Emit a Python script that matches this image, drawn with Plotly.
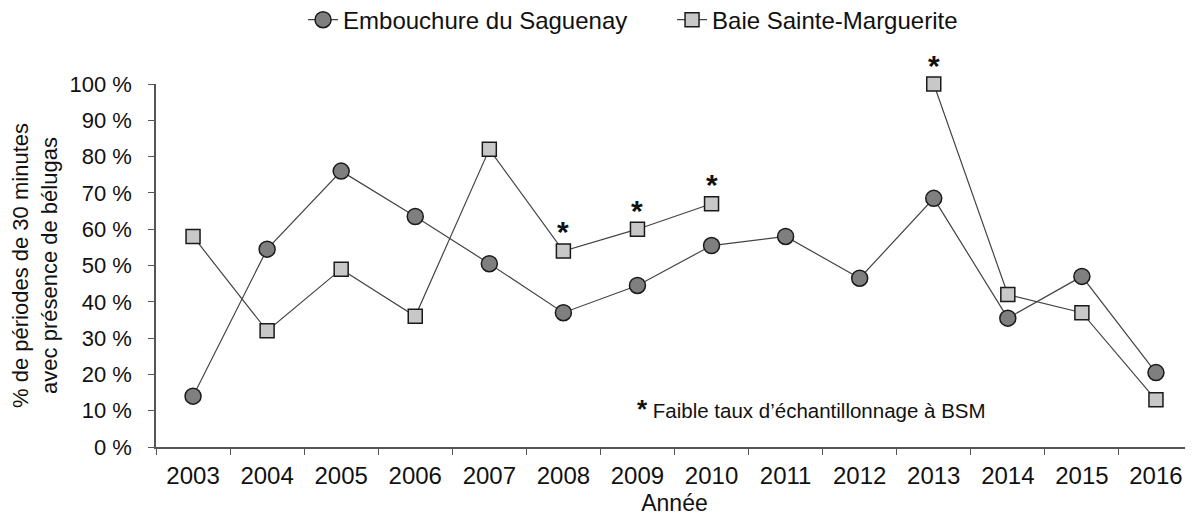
import plotly.graph_objects as go

years = ["2003", "2004", "2005", "2006", "2007", "2008", "2009", "2010",
         "2011", "2012", "2013", "2014", "2015", "2016"]
saguenay = [14, 54.5, 76, 63.5, 50.5, 37, 44.5, 55.5, 58, 46.5, 68.5, 35.5, 47, 20.5]
bsm = [58, 32, 49, 36, 82, 54, 60, 67, None, None, 100, 42, 37, 13]
low_sampling_years = ["2008", "2009", "2010", "2013"]
y_ticks = [0, 10, 20, 30, 40, 50, 60, 70, 80, 90, 100]
y_ticklabels = [f"{v} %" for v in y_ticks]

FONT = "Liberation Sans, Arial, sans-serif"
W, H = 1185, 508  # page body adds an 8px offset

fig = go.Figure()
fig.add_trace(go.Scatter(
    x=years, y=saguenay, name="Embouchure du Saguenay",
    mode="lines+markers", cliponaxis=False,
    line=dict(color="#444444", width=1.2),
    marker=dict(symbol="circle", size=16, color="#7f7f7f",
                line=dict(color="#1a1a1a", width=1.5)),
))
fig.add_trace(go.Scatter(
    x=years, y=bsm, name="Baie Sainte-Marguerite",
    mode="lines+markers", cliponaxis=False, connectgaps=False,
    line=dict(color="#444444", width=1.2),
    marker=dict(symbol="square", size=14, color="#c8c8c8",
                line=dict(color="#1a1a1a", width=1.5)),
))

for yr in low_sampling_years:
    i = years.index(yr)
    fig.add_annotation(x=i, y=bsm[i], text="<b>*</b>", showarrow=False,
                       yshift=19, font=dict(size=30, color="#111", family=FONT),
                       yanchor="middle")

fig.add_annotation(xref="paper", yref="paper", x=0.462, y=0.106,
                   xanchor="left", yanchor="middle", showarrow=False,
                   text="<b style='font-size:26px'>*</b> Faible taux d’échantillonnage à BSM",
                   font=dict(size=20.5, color="#111", family=FONT))

fig.update_layout(
    width=W, height=H,
    margin=dict(l=148, r=0, t=76, b=69, autoexpand=False),
    plot_bgcolor="white", paper_bgcolor="white",
    font=dict(family=FONT, size=22, color="#111"),
    legend=dict(orientation="h", x=0.1418, xref="paper", xanchor="left",
                y=1.176, yref="paper", yanchor="middle",
                font=dict(size=24), itemwidth=30, entrywidth=324,
                bgcolor="rgba(0,0,0,0)"),
    xaxis=dict(type="category", range=[-0.5, len(years) - 0.5], automargin=False,
               showline=True, linecolor="#555", linewidth=1.5,
               ticks="outside", tickson="boundaries", ticklen=6, tickcolor="#555",
               ticklabelstandoff=6,
               showgrid=False, zeroline=False, tickangle=0,
               title=dict(text="Année", standoff=8, font=dict(size=23)),
               tickfont=dict(size=24)),
    yaxis=dict(range=[0, 100], tickvals=y_ticks, ticktext=y_ticklabels, automargin=False,
               showline=True, linecolor="#555", linewidth=1.5,
               ticks="outside", ticklen=6, tickcolor="#555",
               ticklabelstandoff=12,
               showgrid=False, zeroline=False,
               title=dict(text="% de périodes de 30 minutes<br>avec présence de bélugas",
                          standoff=6, font=dict(size=22)),
               tickfont=dict(size=22)),
)

fig.write_html("out.html")
